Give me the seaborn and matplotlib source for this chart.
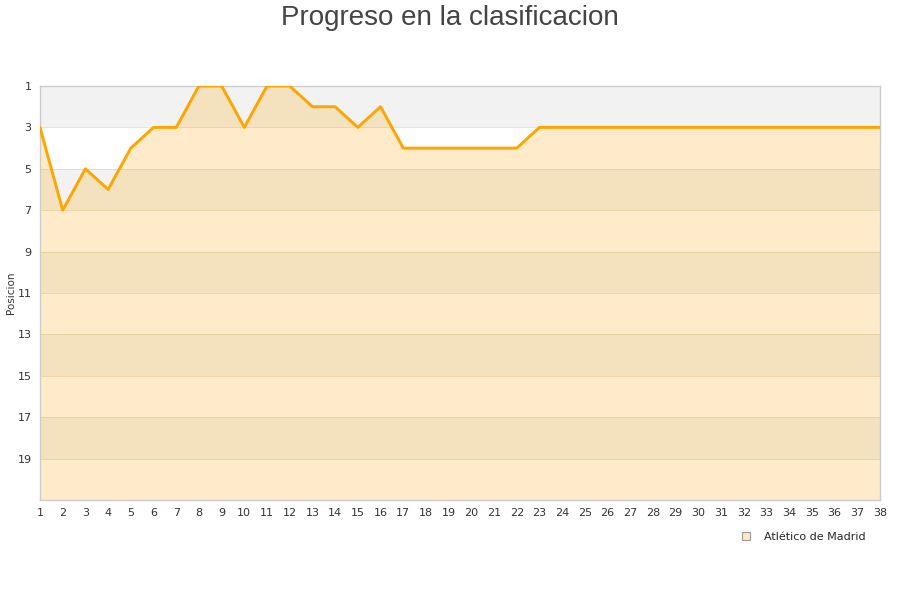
import matplotlib
matplotlib.use("Agg")
import matplotlib.pyplot as plt
import seaborn as sns
import pandas as pd
from matplotlib.lines import Line2D

jornadas = list(range(1, 39))
posiciones = [3, 7, 5, 6, 4, 3, 3, 1, 1, 3, 1, 1, 2, 2, 3, 2, 4, 4, 4, 4,
              4, 4, 3, 3, 3, 3, 3, 3, 3, 3, 3, 3, 3, 3, 3, 3, 3, 3]
yticks = [1, 3, 5, 7, 9, 11, 13, 15, 17, 19]
equipo = "Atlético de Madrid"
titulo = "Progreso en la clasificacion"

sns.set_theme(style="white")
plt.rcParams['font.family'] = ['DejaVu Sans']

df = pd.DataFrame({"Jornada": jornadas, "Posicion": posiciones})

fig = plt.figure(figsize=(9, 6), dpi=100)
ax = fig.add_axes([40/900, 1 - 500/600, 840/900, 414/600])

# alternating background bands
for start in range(1, 21, 4):
    ax.axhspan(start, start + 2, color="#f2f2f2", zorder=0, lw=0)
for y in range(3, 21, 2):
    ax.axhline(y, color="#d8c8a8", lw=0.6, alpha=0.6, zorder=1)

ax.fill_between(df["Jornada"], df["Posicion"], 21, color="#FFA500",
                alpha=0.21, lw=0, zorder=2)
sns.lineplot(data=df, x="Jornada", y="Posicion", ax=ax, color="#FFA500",
             lw=2.1, zorder=3)

ax.set_xlim(1, 38)
ax.set_ylim(21, 1)
ax.set_xticks(jornadas)
ax.set_yticks(yticks)
ax.tick_params(axis="both", labelsize=8, colors="#333333", length=0, pad=6)
ax.set_xlabel("")
ax.set_ylabel("")
for s in ax.spines.values():
    s.set_color("#cccccc")
    s.set_linewidth(1)

fig.text(11/900, 1 - 293/600, "Posicion", rotation=90, ha="center",
         va="center", fontsize=7.5, color="#333333")

fig.text(0.5, 1 - 25/600, titulo, ha="center", va="baseline", fontsize=20,
         color="#444444", family="Liberation Sans")

handle = Line2D([], [], marker="s", linestyle="none", markersize=6,
                markerfacecolor="#fde9c4", markeredgecolor="#999999",
                markeredgewidth=0.8)
fig.legend([handle], [equipo], loc="center", bbox_to_anchor=(800/900, 1 - 537/600),
           frameon=False, fontsize=8, handletextpad=0.6, borderpad=0)

fig.savefig("out.png", dpi=100)
